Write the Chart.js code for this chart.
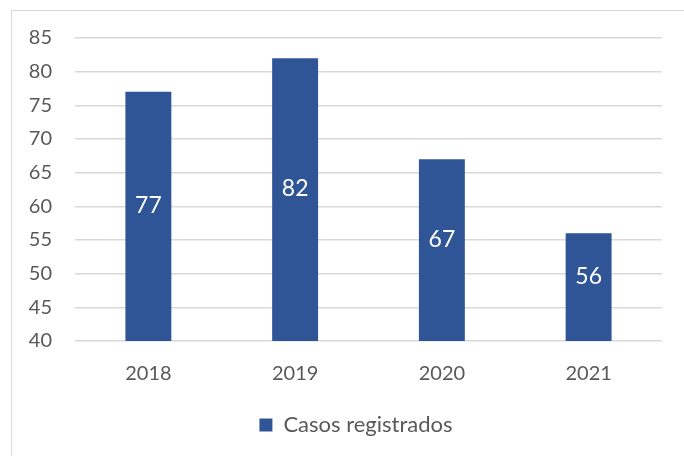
<!DOCTYPE html>
<html>
<head>
<meta charset="utf-8">
<script src="https://cdn.jsdelivr.net/npm/chart.js@4/dist/chart.umd.min.js"></script>
<style>
  html, body { margin: 0; padding: 0; background: #ffffff; overflow: hidden; }
  #wrap { position: relative; width: 684px; height: 456px; }
  #frame { position: absolute; left: 11px; top: 10px; width: 700px; height: 480px; border: 1.5px solid #d9d9d9; box-sizing: border-box; }
  canvas { position: absolute; left: 0; top: 0; }
</style>
</head>
<body>
<div id="wrap">
  <div id="frame"></div>
  <canvas id="c" width="684" height="456"></canvas>
</div>
<script>
const categories = ['2018', '2019', '2020', '2021'];
const seriesName = 'Casos registrados';
const casosRegistrados = [77, 82, 67, 56];
const yTicks = [40, 45, 50, 55, 60, 65, 70, 75, 80, 85];

const barColor = '#2F5597';
const textColor = '#595959';
const gridColor = '#D9D9D9';
const fontFamily = 'Lato, "Open Sans", sans-serif';

const valueLabels = {
  id: 'valueLabels',
  afterDatasetsDraw(chart) {
    const ctx = chart.ctx;
    const meta = chart.getDatasetMeta(0);
    const yScale = chart.scales.y;
    const bottom = yScale.getPixelForValue(yScale.min);
    ctx.save();
    ctx.fillStyle = '#ffffff';
    ctx.font = '23px ' + fontFamily;
    ctx.textAlign = 'center';
    ctx.textBaseline = 'middle';
    meta.data.forEach((bar, i) => {
      const y = (bar.y + bottom) / 2 - 11;
      ctx.fillText(String(chart.data.datasets[0].data[i]), bar.x, y);
    });
    ctx.restore();
  }
};

// Center the legend on the chart frame (Excel style) rather than on the canvas
const legendShift = {
  id: 'legendShift',
  afterLayout(chart) {
    if (chart.legend) {
      chart.legend.left += 25;
      chart.legend.right += 25;
    }
  }
};

new Chart(document.getElementById('c'), {
  type: 'bar',
  data: {
    labels: categories,
    datasets: [{
      label: seriesName,
      data: casosRegistrados,
      backgroundColor: barColor,
      borderWidth: 0,
      barPercentage: 0.313,
      categoryPercentage: 1.0
    }]
  },
  options: {
    responsive: false,
    animation: false,
    devicePixelRatio: 1,
    layout: { padding: { left: 0, right: 22, top: 38, bottom: 10 } },
    scales: {
      x: {
        grid: { display: false, drawTicks: false },
        border: { display: false },
        ticks: { color: textColor, font: { family: fontFamily, size: 20 }, padding: 21 },
        afterFit(scale) { scale.height = 63; }
      },
      y: {
        min: 40, max: 85,
        afterBuildTicks(scale) { scale.ticks = yTicks.map(v => ({ value: v })); },
        grid: { color: gridColor, lineWidth: 1.5, drawTicks: false },
        border: { display: false },
        ticks: { color: textColor, font: { family: fontFamily, size: 20 }, padding: 23 },
        afterFit(scale) { scale.width = 75; }
      }
    },
    plugins: {
      legend: {
        position: 'bottom',
        labels: {
          color: textColor,
          font: { family: fontFamily, size: 22 },
          boxWidth: 13, boxHeight: 13,
          padding: 10
        }
      },
      tooltip: { enabled: false }
    }
  },
  plugins: [valueLabels, legendShift]
});
</script>
</body>
</html>
